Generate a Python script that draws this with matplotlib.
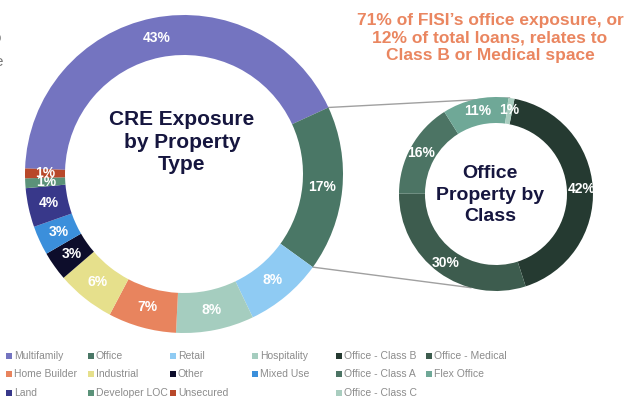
import numpy as np
import matplotlib
matplotlib.use("Agg")
import matplotlib.pyplot as plt

plt.rcParams['font.family'] = ['Liberation Sans', 'DejaVu Sans']

# CRE exposure by property type (clockwise order)
cre_names = ['Multifamily', 'Office', 'Retail', 'Hospitality', 'Home Builder', 'Industrial',
             'Other', 'Mixed Use', 'Land', 'Developer LOC', 'Unsecured']
cre_pct = [43, 17, 8, 8, 7, 6, 3, 3, 4, 1, 1]
cre_colors = ['#7474c0', '#4a7766', '#8fcbf3', '#a5cdbf', '#e8845e', '#e6e08c',
              '#0d0d2b', '#3b8fdb', '#38388a', '#5b9279', '#b8482a']

# office property by class (clockwise order)
off_names = ['Office - Class B', 'Office - Medical', 'Office - Class A', 'Flex Office', 'Office - Class C']
off_pct = [42, 30, 16, 11, 1]
off_colors = ['#253a31', '#3d5c4e', '#4c7464', '#6fa897', '#a9cdbf']

# legend layout (column-major, 3 rows)
cre_legend = ['Multifamily', 'Home Builder', 'Land', 'Office', 'Industrial', 'Developer LOC',
              'Retail', 'Other', 'Unsecured', 'Hospitality', 'Mixed Use']
off_legend = ['Office - Class B', 'Office - Class A', 'Office - Class C', 'Office - Medical', 'Flex Office']

W, H = 640, 404
fig = plt.figure(figsize=(W / 100, H / 100), dpi=100)
ax = fig.add_axes([0, 0, 1, 1])

def Y(y):
    return H - y

# big donut
c1, r1 = (184, Y(174)), 159
w1, _, t1 = ax.pie(cre_pct, colors=cre_colors, startangle=178, counterclock=False,
                   center=c1, radius=r1, wedgeprops=dict(width=40, linewidth=0),
                   autopct='%d%%', pctdistance=0.87,
                   textprops=dict(color='white', fontsize=10, fontweight='bold'))
for t, v in zip(t1, cre_pct):
    t.set_text('%d%%' % v)

# small donut
c2, r2 = (496, Y(194)), 97
w2, _, t2 = ax.pie(off_pct, colors=off_colors, startangle=79, counterclock=False,
                   center=c2, radius=r2, wedgeprops=dict(width=26, linewidth=0),
                   autopct='%d%%', pctdistance=0.88,
                   textprops=dict(color='white', fontsize=10, fontweight='bold'))
for t, v in zip(t2, off_pct):
    t.set_text('%d%%' % v)

# connector lines from the office wedge to the office donut
ow = w1[1]
a_start, a_end = np.radians(ow.theta2), np.radians(ow.theta1)
p1 = (c1[0] + r1 * np.cos(a_start), c1[1] + r1 * np.sin(a_start))
p2 = (c1[0] + r1 * np.cos(a_end), c1[1] + r1 * np.sin(a_end))
q1 = (c2[0] + r2 * np.cos(np.radians(82)), c2[1] + r2 * np.sin(np.radians(82)))
q2 = (c2[0] + r2 * np.cos(np.radians(255)), c2[1] + r2 * np.sin(np.radians(255)))
ax.plot([p1[0], q1[0]], [p1[1], q1[1]], color='#a0a0a0', lw=1, zorder=0)
ax.plot([p2[0], q2[0]], [p2[1], q2[1]], color='#a0a0a0', lw=1, zorder=0)

# center titles
ax.text(182, Y(142), 'CRE Exposure\nby Property\nType', ha='center', va='center',
        fontsize=15, fontweight='bold', color='#16163f', linespacing=1.25)
ax.text(490, Y(195), 'Office\nProperty by\nClass', ha='center', va='center',
        fontsize=14, fontweight='bold', color='#16163f', linespacing=1.32)

# callout
ax.text(490, Y(38), '71% of FISI\u2019s office exposure, or\n12% of total loans, relates to\nClass B or Medical space',
        ha='center', va='center', fontsize=12.5, fontweight='bold', color='#ea8660', linespacing=1.22)

# cut-off text at the left edge
ax.text(-3, Y(38), 'o', ha='center', va='center', fontsize=11, color='#777777')
ax.text(-1, Y(62), 'e', ha='center', va='center', fontsize=11, color='#777777')

# legends
def draw_legend(names, all_names, colors, x0, dx, rows_y):
    for i, n in enumerate(names):
        col, row = divmod(i, 3)
        x, y = x0 + col * dx, Y(rows_y[row])
        ax.scatter([x], [y], marker='s', s=16, color=colors[all_names.index(n)], linewidths=0)
        ax.text(x + 5, y, n, ha='left', va='center', fontsize=7.5, color='#8c8c8c')

draw_legend(cre_legend, cre_names, cre_colors, 9, 82, [356, 374, 393])
draw_legend(off_legend, off_names, off_colors, 339, 90, [356, 374, 393])

ax.set_xlim(0, W)
ax.set_ylim(0, H)
ax.set_aspect('equal')
ax.axis('off')

fig.savefig('out.png', dpi=100)
